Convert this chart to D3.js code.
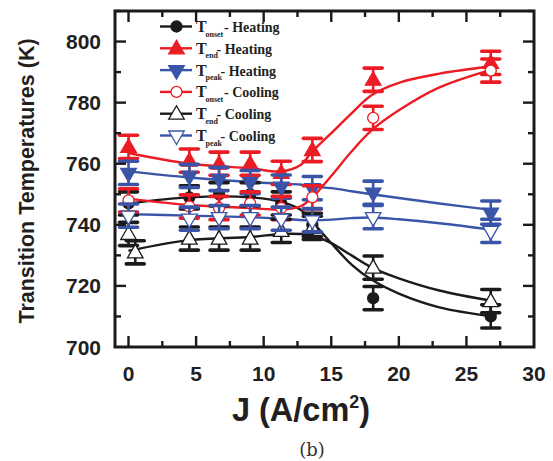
<!DOCTYPE html>
<html>
<head>
<meta charset="utf-8">
<script src="https://cdn.jsdelivr.net/npm/d3@7"></script>
<style>
  body { margin: 0; background: #fff; }
  svg { display: block; }
</style>
</head>
<body>
<svg id="chart" width="553" height="461"></svg>
<script>
// current density (A/cm2) where the measurements were taken
const jHeat = [0, 4.5, 6.7, 9, 11.3, 13.6, 18.1, 26.8];
const jCool = [0, 4.5, 6.7, 9, 11.3, 13.6, 18.1, 26.8];
const jEndCool = [0, 0.5, 4.5, 6.7, 9, 11.3, 13.6, 18.1, 26.8];

// measured temperatures (K)
const onsetHeat = [747, 749, 750, 750, 747, 740, 716, 710];
const endHeat   = [765.5, 761, 760, 760, 757, 764.5, 787.5, 793];
const peakHeat  = [757, 756, 755, 754, 752.5, 752, 750.5, 744];
const onsetCool = [748, 746, 745.5, 747, 745.5, 749, 775, 790.5];
const endCool   = [737, 731, 735.5, 735.5, 735.5, 738, 739, 726, 715];
const peakCool  = [743, 742, 742.5, 742.5, 742, 741.5, 742.5, 738];

// error bars (K)
const errHeat = [3.8, 3.8, 3.8, 3.8, 3.8, 3.8, 3.8, 3.8];
const errCool = [3.8, 3.8, 3.8, 3.8, 3.8, 3.8, 3.8, 3.8, 3.8];

// smooth guide curves
const fitJ        = [0, 4.5, 9, 11.3, 12.7, 13.6, 15, 16.5, 18, 20, 23, 27];
const fitOnsetHeat = [747, 749, 749, 747.5, 745, 741, 734, 727, 722, 717.5, 713, 710];
const fitEndHeat   = [763.5, 760, 758.5, 757.5, 759.5, 764, 770, 776.5, 782.5, 786.5, 789.5, 792];
const fitPeakHeat  = [757.5, 755.5, 754, 753.5, 753.2, 752.5, 752, 751, 750, 748.8, 747, 744.8];
const fitOnsetCool = [748.5, 746.5, 745.5, 745, 746, 749, 756, 764, 771, 777.5, 785, 791];
const fitEndCool   = [731.5, 735, 736, 737, 737, 736.5, 734, 730, 726, 722.5, 718.5, 715];
const fitPeakCool  = [743.5, 743, 742.5, 742, 741.6, 741.5, 741.7, 742.2, 742.4, 741.8, 740.5, 738.3];

const xTicks = [0, 5, 10, 15, 20, 25, 30];
const yTicks = [700, 720, 740, 760, 780, 800];

const red = "#ec1c24", blue = "#3a55a8", black = "#1c1a1a";

const series = [
  {name: "onset", label: "Heating", color: black, shape: "circle", fill: true,  j: jHeat, v: onsetHeat, e: errHeat, fit: fitOnsetHeat},
  {name: "end",   label: "Heating", color: red,   shape: "up",     fill: true,  j: jHeat, v: endHeat,   e: errHeat, fit: fitEndHeat},
  {name: "peak",  label: "Heating", color: blue,  shape: "down",   fill: true,  j: jHeat, v: peakHeat,  e: errHeat, fit: fitPeakHeat},
  {name: "onset", label: "Cooling", color: red,   shape: "circle", fill: false, j: jCool, v: onsetCool, e: errCool, fit: fitOnsetCool},
  {name: "end",   label: "Cooling", color: black, shape: "up",     fill: false, j: jEndCool, v: endCool, e: errCool, fit: fitEndCool},
  {name: "peak",  label: "Cooling", color: blue,  shape: "down",   fill: false, j: jCool, v: peakCool,  e: errCool, fit: fitPeakCool}
];

const svg = d3.select("#chart");
const x = d3.scaleLinear().domain([-1, 30]).range([115, 534]);
const y = d3.scaleLinear().domain([700, 810]).range([347, 11]);

function symbolPath(shape) {
  if (shape == "circle") return d3.symbol().type(d3.symbolCircle).size(95)();
  return d3.symbol().type(d3.symbolTriangle).size(105)();
}
function symbolTransform(shape, px, py) {
  if (shape == "down") return "translate(" + px + "," + py + ") rotate(180)";
  if (shape == "up") return "translate(" + px + "," + (py + 1) + ")";
  return "translate(" + px + "," + py + ")";
}

// guide curves
const line = d3.line()
  .x(function(d) { return x(d[0]); })
  .y(function(d) { return y(d[1]); })
  .curve(d3.curveCatmullRom);

// error bars and markers
const plot = svg.append("g");
series.forEach(function(s) {
  plot.append("path")
    .datum(fitJ.map(function(j, i) { return [j, s.fit[i]]; }))
    .attr("d", line)
    .attr("fill", "none")
    .attr("stroke", s.color)
    .attr("stroke-width", 2.4);
});
series.forEach(function(s) {
  let pts = s.j.map(function(j, i) { return {j: j, v: s.v[i], e: s.e[i]}; });
  let g = plot.append("g");
  let eb = g.selectAll(".eb").data(pts).enter().append("g");
  eb.append("line")
    .attr("x1", function(d) { return x(d.j); })
    .attr("x2", function(d) { return x(d.j); })
    .attr("y1", function(d) { return y(d.v - d.e); })
    .attr("y2", function(d) { return y(d.v + d.e); })
    .attr("stroke", s.color).attr("stroke-width", 2.6);
  [-1, 1].forEach(function(sign) {
    eb.append("line")
      .attr("x1", function(d) { return x(d.j) - 9; })
      .attr("x2", function(d) { return x(d.j) + 9; })
      .attr("y1", function(d) { return y(d.v + sign * d.e); })
      .attr("y2", function(d) { return y(d.v + sign * d.e); })
      .attr("stroke", s.color).attr("stroke-width", 3.6)
      .attr("stroke-linecap", "round");
  });
  g.selectAll(".mk").data(pts).enter().append("path")
    .attr("d", symbolPath(s.shape))
    .attr("transform", function(d) { return symbolTransform(s.shape, x(d.j), y(d.v)); })
    .attr("fill", s.fill ? s.color : "#fff")
    .attr("stroke", s.color)
    .attr("stroke-width", 1.3);
});

// frame and ticks
const frame = svg.append("g");
frame.append("rect")
  .attr("x", x(-1)).attr("y", y(810))
  .attr("width", x(30) - x(-1)).attr("height", y(700) - y(810))
  .attr("fill", "none").attr("stroke", "#1a1a1a").attr("stroke-width", 3);

const xMinor = d3.range(0, 30.1, 2.5);
const yMinor = d3.range(700, 810.1, 10);
xMinor.forEach(function(t) {
  let len = (t % 5 == 0) ? 11 : 6;
  if (t == 30) return;
  frame.append("line").attr("x1", x(t)).attr("x2", x(t))
    .attr("y1", y(700)).attr("y2", y(700) - len)
    .attr("stroke", "#1a1a1a").attr("stroke-width", 2.4);
  frame.append("line").attr("x1", x(t)).attr("x2", x(t))
    .attr("y1", y(810)).attr("y2", y(810) + len)
    .attr("stroke", "#1a1a1a").attr("stroke-width", 2.4);
});
yMinor.forEach(function(t) {
  let len = (t % 20 == 0) ? 11 : 6;
  if (t == 700) return;
  frame.append("line").attr("x1", x(-1)).attr("x2", x(-1) + len)
    .attr("y1", y(t)).attr("y2", y(t))
    .attr("stroke", "#1a1a1a").attr("stroke-width", 2.4);
  frame.append("line").attr("x1", x(30)).attr("x2", x(30) - len)
    .attr("y1", y(t)).attr("y2", y(t))
    .attr("stroke", "#1a1a1a").attr("stroke-width", 2.4);
});

// tick labels
svg.selectAll(".xl").data(xTicks).enter().append("text")
  .attr("x", function(d) { return x(d); })
  .attr("y", 381)
  .attr("text-anchor", "middle")
  .attr("font-family", "Liberation Sans, Arial, sans-serif")
  .attr("font-weight", "bold").attr("font-size", 21)
  .attr("fill", "#231f20")
  .text(function(d) { return d; });
svg.selectAll(".yl").data(yTicks).enter().append("text")
  .attr("x", 101)
  .attr("y", function(d) { return y(d) + 7.5; })
  .attr("text-anchor", "end")
  .attr("font-family", "Liberation Sans, Arial, sans-serif")
  .attr("font-weight", "bold").attr("font-size", 21)
  .attr("fill", "#231f20")
  .text(function(d) { return d; });

// axis titles
svg.append("text")
  .attr("transform", "translate(34," + 181 + ") rotate(-90)")
  .attr("text-anchor", "middle")
  .attr("font-family", "Liberation Sans, Arial, sans-serif")
  .attr("font-weight", "bold").attr("font-size", 21.5)
  .attr("fill", "#231f20")
  .text("Transition Temperatures (K)");

let xt = svg.append("text")
  .attr("x", 301).attr("y", 421)
  .attr("text-anchor", "middle")
  .attr("font-family", "Liberation Sans, Arial, sans-serif")
  .attr("font-weight", "bold").attr("font-size", 32.5)
  .attr("fill", "#231f20");
xt.append("tspan").text("J (A/cm");
xt.append("tspan").attr("dy", -13).attr("font-size", 18).text("2");
xt.append("tspan").attr("dy", 13).text(")");

svg.append("text")
  .attr("x", 312).attr("y", 456)
  .attr("text-anchor", "middle")
  .attr("font-family", "DejaVu Serif, serif")
  .attr("font-size", 18)
  .attr("fill", "#333")
  .text("(b)");

// legend
const legend = svg.append("g");
series.forEach(function(s, i) {
  let ly = 26.5 + i * 21.8;
  legend.append("line").attr("x1", 160).attr("x2", 192)
    .attr("y1", ly).attr("y2", ly)
    .attr("stroke", s.color).attr("stroke-width", 2.4);
  legend.append("path")
    .attr("d", symbolPath(s.shape))
    .attr("transform", symbolTransform(s.shape, 176.5, ly))
    .attr("fill", s.fill ? s.color : "#fff")
    .attr("stroke", s.color).attr("stroke-width", 1.3);
  let font = "Liberation Serif, Times New Roman, serif";
  legend.append("text")
    .attr("x", 196).attr("y", ly + 5.5)
    .attr("font-family", font).attr("font-weight", "bold").attr("font-size", 16)
    .attr("fill", "#231f20").text("T");
  legend.append("text")
    .attr("x", 205.5).attr("y", ly + 10)
    .attr("font-family", font).attr("font-weight", "bold").attr("font-size", 8)
    .attr("fill", "#231f20").text(s.name);
  legend.append("text")
    .attr("x", 206 + (s.name == "onset" ? 18 : s.name == "end" ? 10.5 : 14.5)).attr("y", ly + 5.5)
    .attr("font-family", font).attr("font-weight", "bold").attr("font-size", 14)
    .attr("fill", "#231f20").text("- " + s.label);
});
</script>
</body>
</html>
